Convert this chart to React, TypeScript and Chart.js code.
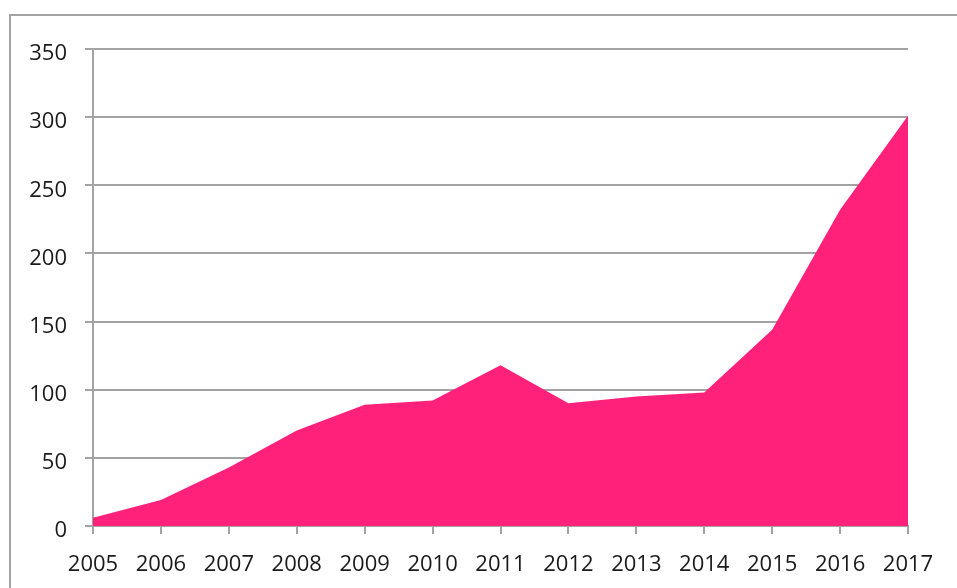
import React, { useEffect, useRef } from "react";
import { Chart, registerables } from "chart.js";

Chart.register(...registerables);

const years = ["2005", "2006", "2007", "2008", "2009", "2010", "2011", "2012", "2013", "2014", "2015", "2016", "2017"];
const values = [6, 19, 43, 70, 89, 92, 118, 90, 95, 98, 144, 232, 301];
const yMin = 0;
const yMax = 350;
const yStep = 50;

const GRID = "#a3a3a3";
const FILL = "#ff217a";
const TEXT = "#1a1a1a";
const FONT = { family: "'Open Sans', sans-serif", size: 22 };

const frame = {
  id: "frame",
  beforeDraw(chart: any) {
    const ctx = chart.ctx;
    ctx.save();
    ctx.strokeStyle = GRID;
    ctx.lineWidth = 2;
    ctx.beginPath();
    ctx.moveTo(10, chart.height);
    ctx.lineTo(10, 15);
    ctx.lineTo(chart.width, 15);
    ctx.stroke();
    ctx.restore();
  },
};

export default function App() {
  const ref = useRef<HTMLCanvasElement>(null);
  useEffect(() => {
    const chart = new Chart(ref.current!, {
      type: "line",
      data: {
        labels: years,
        datasets: [
          {
            data: values,
            fill: "origin",
            backgroundColor: FILL,
            borderColor: FILL,
            borderWidth: 0,
            pointRadius: 0,
            tension: 0,
          },
        ],
      },
      plugins: [frame],
      options: {
        animation: false,
        responsive: false,
        devicePixelRatio: 1,
        layout: { padding: { left: 0, right: 49, top: 49, bottom: 0 } },
        plugins: { legend: { display: false }, tooltip: { enabled: false } },
        scales: {
          x: {
            type: "category",
            offset: false,
            afterFit: (s: any) => { s.height = 62; },
            grid: { drawOnChartArea: false, drawTicks: true, tickLength: 8, color: GRID, lineWidth: 2 },
            border: { display: true, color: GRID, width: 2 },
            ticks: { color: TEXT, font: FONT, padding: 18, maxRotation: 0, autoSkip: false },
          },
          y: {
            min: yMin,
            max: yMax,
            afterFit: (s: any) => { s.width = 93; },
            grid: { color: GRID, lineWidth: 2, drawTicks: true, tickLength: 8 },
            border: { display: true, color: GRID, width: 2 },
            ticks: { stepSize: yStep, color: TEXT, font: FONT, padding: 18, labelOffset: 5 },
          },
        },
      },
    });
    return () => chart.destroy();
  }, []);
  return (
    <div style={{ position: "fixed", left: 0, top: 0, width: 957, height: 588, background: "#fff", overflow: "hidden" }}>
      <canvas ref={ref} width={957} height={588} style={{ display: "block", width: 957, height: 588 }} />
    </div>
  );
}
